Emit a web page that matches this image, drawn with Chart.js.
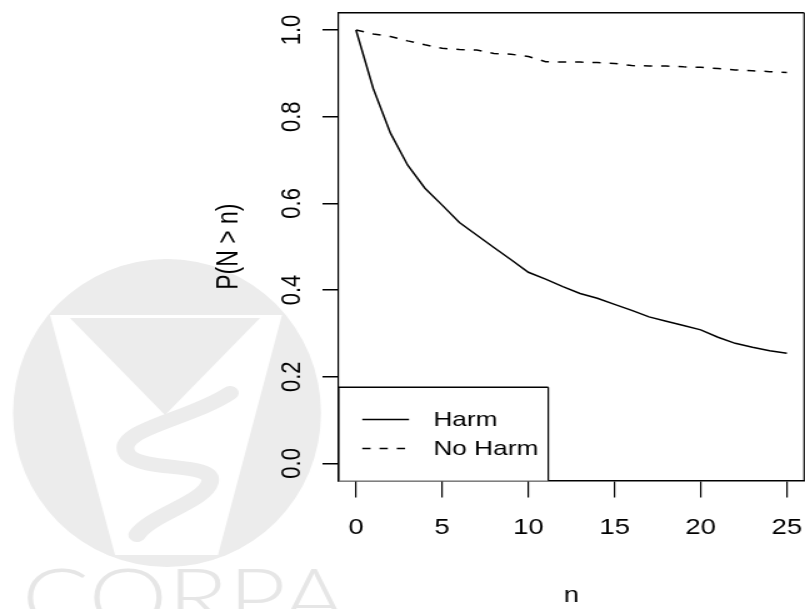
<!DOCTYPE html>
<html>
<head>
<meta charset="utf-8">
<script src="https://cdn.jsdelivr.net/npm/chart.js@4.4.1/dist/chart.umd.min.js"></script>
<style>
html, body { margin:0; padding:0; overflow:hidden; background:#fff; width:805px; height:609px; }
/* the reference is stretched sideways, so the canvas is too */
#wrap { width:660px; height:609px; transform:scaleX(1.25); transform-origin:0 0; }
</style>
</head>
<body>
<div id="wrap"><canvas id="c" width="660" height="609"></canvas></div>
<script>
const SX = 1.25;

const nValues = [0,1,2,3,4,5,6,7,8,9,10,11,12,13,14,15,16,17,18,19,20,21,22,23,24,25];
const harm = [1.000,0.865,0.762,0.688,0.635,0.596,0.556,0.527,0.498,0.470,0.441,0.425,0.408,
              0.392,0.381,0.367,0.353,0.338,0.328,0.318,0.308,0.291,0.277,0.268,0.260,0.254];
const noHarm = [1.000,0.991,0.985,0.975,0.966,0.958,0.955,0.954,0.946,0.944,0.939,0.927,0.926,
                0.926,0.925,0.923,0.918,0.917,0.917,0.915,0.914,0.911,0.908,0.906,0.904,0.902];
const seriesNames = ['Harm', 'No Harm'];
const xTicks = [0,5,10,15,20,25];
const yTicks = [0,0.2,0.4,0.6,0.8,1.0];
const yTickLabels = ['0.0','0.2','0.4','0.6','0.8','1.0'];

const FONT = "'Liberation Sans', Arial, Helvetica, sans-serif";
const FS = 22;

function pts(ys){ return nValues.map((n,i)=>({x:n, y:ys[i]})); }

// grey logo + text behind the plot
const watermark = {
  id:'watermark',
  beforeDraw(chart){
    const ctx = chart.ctx;
    const X = v => v / SX;
    ctx.save();
    ctx.fillStyle = '#ececec';
    ctx.beginPath();
    ctx.ellipse(X(167), 413, X(154), 154, 0, 0, Math.PI*2);
    ctx.fill();
    // cup
    ctx.fillStyle = '#ffffff';
    ctx.beginPath();
    ctx.moveTo(X(50),315); ctx.lineTo(X(282),315); ctx.lineTo(X(218),555); ctx.lineTo(X(115),555);
    ctx.closePath(); ctx.fill();
    ctx.fillStyle = '#ececec';
    ctx.beginPath();
    ctx.moveTo(X(70),318); ctx.lineTo(X(260),318); ctx.lineTo(X(165),415);
    ctx.closePath(); ctx.fill();
    // snake
    ctx.strokeStyle = '#ececec';
    ctx.lineWidth = 14;
    ctx.lineCap = 'round';
    ctx.beginPath();
    ctx.moveTo(X(230),393);
    ctx.bezierCurveTo(X(190),420, X(110),430, X(128),455);
    ctx.bezierCurveTo(X(145),472, X(215),462, X(210),482);
    ctx.bezierCurveTo(X(205),502, X(150),515, X(137),535);
    ctx.stroke();
    ctx.fillStyle = '#e6e6e6';
    ctx.font = '300 80px Lato, ' + FONT;
    ctx.textAlign = 'left';
    ctx.textBaseline = 'alphabetic';
    ctx.fillText('CORPA', X(22), 626);
    ctx.restore();
  }
};

// box top line, y tick labels, legend
const rStyle = {
  id:'rStyle',
  afterDraw(chart){
    const ctx = chart.ctx;
    const a = chart.chartArea;
    const ys = chart.scales.y;
    ctx.save();
    ctx.strokeStyle = '#000';
    ctx.lineWidth = 1.5;
    ctx.beginPath();
    ctx.moveTo(a.left, a.top); ctx.lineTo(a.right, a.top);
    ctx.stroke();
    ctx.lineWidth = 1.2;
    ctx.beginPath();
    ctx.moveTo(a.right, a.top); ctx.lineTo(a.right, a.bottom);
    ctx.stroke();

    ctx.fillStyle = '#000';
    ctx.font = FS + 'px ' + FONT;
    ctx.textAlign = 'center';
    ctx.textBaseline = 'middle';
    ys.ticks.forEach((t,i)=>{
      const py = ys.getPixelForValue(t.value);
      ctx.save();
      ctx.translate(X(293), py);
      ctx.rotate(-Math.PI/2);
      ctx.fillText(yTickLabels[i], 0, 0);
      ctx.restore();
    });

    // legend, bottom left inside the plot
    const L = a.left, R = X(548.3), T = 387.3, B = a.bottom;
    ctx.fillStyle = '#fff';
    ctx.fillRect(L, T, R-L, B-T);
    ctx.lineWidth = 1.5;
    ctx.beginPath();
    ctx.moveTo(L, T); ctx.lineTo(R, T);
    ctx.stroke();
    ctx.lineWidth = 1.2;
    ctx.beginPath();
    ctx.moveTo(R, T); ctx.lineTo(R, B);
    ctx.moveTo(L, T); ctx.lineTo(L, B);
    ctx.stroke();
    const rows = [419.5, 448.5];
    ctx.font = '21px ' + FONT;
    chart.data.datasets.forEach((ds,i)=>{
      ctx.strokeStyle = ds.borderColor;
      ctx.lineWidth = ds.borderWidth;
      ctx.setLineDash(ds.borderDash || []);
      ctx.beginPath();
      ctx.moveTo(X(362.3), rows[i]); ctx.lineTo(X(409), rows[i]);
      ctx.stroke();
      ctx.setLineDash([]);
      ctx.fillStyle = '#000';
      ctx.textAlign = 'left';
      ctx.textBaseline = 'middle';
      ctx.fillText(ds.label, X(433.3), rows[i] + 1);
    });
    ctx.restore();
    function X(v){ return v / SX; }
  }
};

new Chart(document.getElementById('c'), {
  type:'line',
  data:{
    datasets:[
      { label:seriesNames[0], data:pts(harm), borderColor:'#000', borderWidth:1.5,
        pointRadius:0, fill:false, tension:0 },
      { label:seriesNames[1], data:pts(noHarm), borderColor:'#000', borderWidth:1.5,
        borderDash:[6.6,7.2], pointRadius:0, fill:false, tension:0 }
    ]
  },
  options:{
    responsive:false,
    animation:false,
    events:[],
    layout:{ padding:{ top:12.7, right:14.7, left:0, bottom:0 } },
    plugins:{ legend:{display:false}, tooltip:{enabled:false} },
    scales:{
      x:{
        type:'linear', min:-1, max:26,
        afterBuildTicks:s=>{ s.ticks = xTicks.map(v=>({value:v})); },
        afterFit:s=>{ s.height = 128.3; },
        grid:{ drawOnChartArea:false, drawTicks:true, tickLength:16.7, color:'#000', lineWidth:1.2 },
        border:{ display:true, color:'#000', width:1.5 },
        ticks:{ color:'#000', font:{family:FONT, size:FS}, padding:17.7, maxRotation:0, autoSkip:false },
        title:{ display:true, text:'n', color:'#000', font:{family:FONT, size:FS}, padding:{top:0,bottom:0} }
      },
      y:{
        type:'linear', min:-0.04, max:1.04,
        afterBuildTicks:s=>{ s.ticks = yTicks.map(v=>({value:v})); },
        afterFit:s=>{ s.width = 271; },
        grid:{ drawOnChartArea:false, drawTicks:true, tickLength:13, color:'#000', lineWidth:1.5 },
        border:{ display:true, color:'#000', width:1.2 },
        ticks:{ display:false },
        title:{ display:true, text:'P(N > n)', color:'#000', font:{family:FONT, size:23}, padding:{top:170.3,bottom:0} }
      }
    }
  },
  plugins:[watermark, rStyle]
});
</script>
</body>
</html>
